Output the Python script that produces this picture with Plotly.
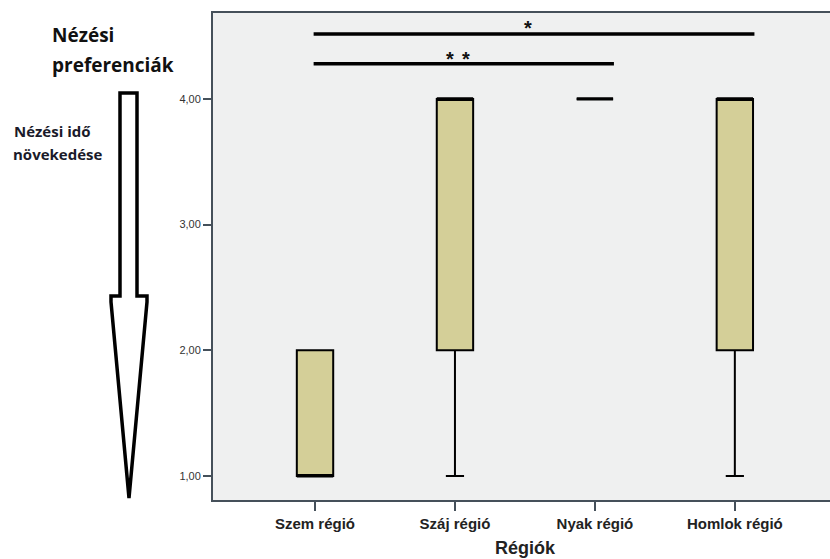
import plotly.graph_objects as go

# ---- data ----
categories = ["Szem régió", "Száj régió", "Nyak régió", "Homlok régió"]
q1 = [1, 2, 4, 2]
median = [1, 4, 4, 4]
q3 = [2, 4, 4, 4]
lower_whisker = [1, 1, 4, 1]
upper_whisker = [2, 4, 4, 4]
y_ticks = [1, 2, 3, 4]
y_tick_labels = ["1,00", "2,00", "3,00", "4,00"]
x_pos = list(range(len(categories)))

W, H = 830, 559
ML, MR, MT, MB = 213, 0, 13, 59
PW, PH = W - ML - MR, H - MT - MB
BOX_W = 0.26


def px(xp):
    return (xp - ML) / PW


def py(yp):
    return (H - MB - yp) / PH


fig = go.Figure()
fig.add_trace(go.Box(
    x=x_pos, q1=q1, median=median, q3=q3,
    lowerfence=lower_whisker, upperfence=upper_whisker,
    fillcolor="#d4cf98", line=dict(color="#000000", width=2),
    width=BOX_W, whiskerwidth=0.5, boxpoints=False, showlegend=False,
    hoverinfo="skip",
))
# thicker median lines (SPSS style)
for xp, m in zip(x_pos, median):
    fig.add_trace(go.Scatter(x=[xp - BOX_W / 2, xp + BOX_W / 2], y=[m, m], mode="lines",
                             line=dict(color="#000000", width=3.2), showlegend=False,
                             hoverinfo="skip"))

# significance bars
sig = [
    dict(x0=-0.01, x1=3.14, y=4.517, stars=[(1.521, 4.565)]),
    dict(x0=-0.01, x1=2.136, y=4.28, stars=[(0.964, 4.318), (1.079, 4.318)]),
]
shapes = []
annotations = []
for s in sig:
    shapes.append(dict(type="line", xref="x", yref="y", x0=s["x0"], x1=s["x1"],
                       y0=s["y"], y1=s["y"], line=dict(color="#000000", width=3.5)))
    for sx, sy in s["stars"]:
        annotations.append(dict(x=sx, y=sy, xref="x", yref="y", text="*",
                                showarrow=False,
                                font=dict(family="Liberation Sans", size=20, color="#111",
                                          weight="bold")))

# arrow outline (pixel points converted to paper coords)
arrow_px = [(120, 93), (137, 93), (137, 296), (147, 296), (147, 302), (129, 498),
            (111, 302), (111, 296), (120, 296)]
path = "M " + " L ".join(f"{px(a):.5f},{py(b):.5f}" for a, b in arrow_px) + " Z"
shapes.append(dict(type="path", xref="paper", yref="paper", path=path,
                   line=dict(color="#000000", width=3.5), fillcolor="#ffffff", layer="above"))

annotations += [
    dict(x=px(50), y=py(35), xref="paper", yref="paper", xanchor="left", yanchor="middle",
         text="Nézési", showarrow=False,
         font=dict(family="Open Sans", size=19, color="#111", weight="bold")),
    dict(x=px(50), y=py(65), xref="paper", yref="paper", xanchor="left", yanchor="middle",
         text="preferenciák", showarrow=False,
         font=dict(family="Open Sans", size=19, color="#111", weight="bold")),
    dict(x=px(12), y=py(131), xref="paper", yref="paper", xanchor="left", yanchor="middle",
         text="Nézési idő", showarrow=False,
         font=dict(family="Open Sans", size=15, color="#1a1a2a", weight="bold")),
    dict(x=px(11), y=py(154), xref="paper", yref="paper", xanchor="left", yanchor="middle",
         text="növekedése", showarrow=False,
         font=dict(family="Open Sans", size=15, color="#1a1a2a", weight="bold")),
    dict(x=px(525), y=py(548), xref="paper", yref="paper", xanchor="center", yanchor="middle",
         text="Régiók", showarrow=False,
         font=dict(family="Liberation Sans", size=18, color="#222", weight="bold")),
]

fig.update_layout(
    width=W, height=H,
    margin=dict(l=ML, r=MR, t=MT, b=MB, pad=0),
    paper_bgcolor="#ffffff", plot_bgcolor="#eff0f0",
    shapes=shapes, annotations=annotations,
    xaxis=dict(range=[-0.729, 3.68], tickvals=x_pos, ticktext=categories,
               showgrid=False, zeroline=False, showline=True, linecolor="#45505a",
               linewidth=2, mirror=True, ticks="outside", ticklen=9, tickwidth=1.5,
               tickcolor="#45505a",
               tickfont=dict(family="Liberation Sans", size=15, color="#222", weight="bold")),
    yaxis=dict(range=[0.809, 4.684], tickvals=y_ticks, ticktext=y_tick_labels,
               showgrid=False, zeroline=False, showline=True, linecolor="#45505a",
               linewidth=2, mirror=False, ticks="outside", ticklen=8, tickwidth=1.5,
               tickcolor="#45505a",
               tickfont=dict(family="Liberation Sans", size=11, color="#333")),
)

fig.write_html("out.html")
